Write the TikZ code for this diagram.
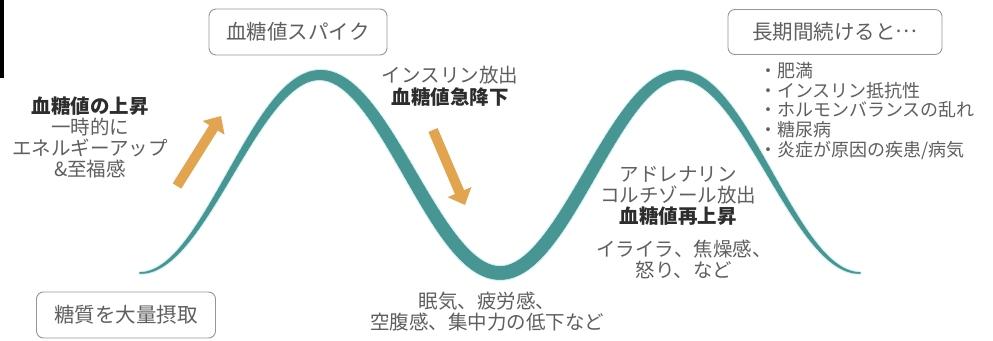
\documentclass[tikz,border=0pt]{standalone}
\usepackage{fontspec}
\newfontfamily\jp{Noto Sans CJK JP}
\usetikzlibrary{arrows.meta}
\definecolor{curveteal}{RGB}{72,150,148}
\definecolor{halo}{RGB}{205,240,240}
\definecolor{arroworange}{RGB}{226,164,78}
\definecolor{txtgray}{RGB}{95,95,95}
\definecolor{txtdark}{RGB}{45,45,45}
\definecolor{boxgray}{RGB}{150,150,150}
\begin{document}
\begin{tikzpicture}[x=1pt,y=-1pt,
  labelbox/.style={draw=boxgray, line width=0.9pt, rounded corners=7pt, inner sep=0pt,
    font=\jp\fontsize{20.5}{22}\selectfont, text=txtgray},
  lbl/.style={font=\jp\fontsize{19.5}{21}\selectfont, text=txtgray, align=center, inner sep=0pt},
  listlbl/.style={font=\jp\fontsize{18}{19.8}\selectfont, text=txtgray, align=left, inner sep=0pt},
  orangearrow/.style={draw=arroworange, line width=10pt, -{Triangle[length=14pt,width=25pt]}}
]
\useasboundingbox (0,0) rectangle (993,340);
\fill[white] (0,0) rectangle (993,340);
\fill[black] (0,0) rectangle (4,78);

% glow under the curve
\foreach \i in {0,...,239}{
  \pgfmathsetmacro\xa{140+3*\i}
  \pgfmathsetmacro\xb{\xa+3}
  \pgfmathsetmacro\ya{174-99*cos(\xa-320)}
  \pgfmathsetmacro\yb{174-99*cos(\xb-320)}
  \pgfmathsetmacro\w{3.5+12*sin((\xa+1.5-140)/4)}
  \draw[halo, line cap=round, line width=\w pt] (\xa,\ya) -- (\xb,\yb);
}
% the curve
\foreach \i in {0,...,239}{
  \pgfmathsetmacro\xa{140+3*\i}
  \pgfmathsetmacro\xb{\xa+3}
  \pgfmathsetmacro\ya{174-99*cos(\xa-320)}
  \pgfmathsetmacro\yb{174-99*cos(\xb-320)}
  \pgfmathsetmacro\w{1.5+12*sin((\xa+1.5-140)/4)}
  \draw[curveteal, line cap=round, line width=\w pt] (\xa,\ya) -- (\xb,\yb);
}

% boxes
\node[labelbox, minimum width=178pt, minimum height=46pt] (spike) at (298,32) {血糖値スパイク};
\node[labelbox, minimum width=214pt, minimum height=45pt] (longterm) at (835,32) {長期間続けると\raisebox{0.33em}{…}};
\node[labelbox, minimum width=179pt, minimum height=46pt] (intake) at (126,315) {糖質を大量摂取};

% texts
\node[lbl] (rise) at (90,137) {\textcolor{txtdark}{\bfseries 血糖値の上昇}\\一時的に\\エネルギーアップ\\\&至福感};
\node[lbl, font=\jp\fontsize{19.5}{22.5}\selectfont] (insulin) at (450,86) {インスリン放出\\\textcolor{txtdark}{\bfseries 血糖値急降下}};
\node[lbl] (adren) at (678,196) {アドレナリン\\コルチゾール放出\\\textcolor{txtdark}{\bfseries 血糖値再上昇}};
\node[lbl] (irrit) at (684,259) {イライラ、焦燥感、\\怒り、など};
\node[lbl] (sleepy) at (487,312) {眠気、疲労感、\\空腹感、集中力の低下など};
\node[listlbl, anchor=north west] (list) at (759,62) {・肥満\\・インスリン抵抗性\\・ホルモンバランスの乱れ\\・糖尿病\\・炎症が原因の疾患/病気};

% arrows
\coordinate (a1s) at (177,186);
\coordinate (a1e) at (221,116);
\coordinate (a2s) at (433,130);
\coordinate (a2e) at (465,205);
\draw[orangearrow] (a1s) -- (a1e);
\draw[orangearrow] (a2s) -- (a2e);
\end{tikzpicture}
\end{document}
